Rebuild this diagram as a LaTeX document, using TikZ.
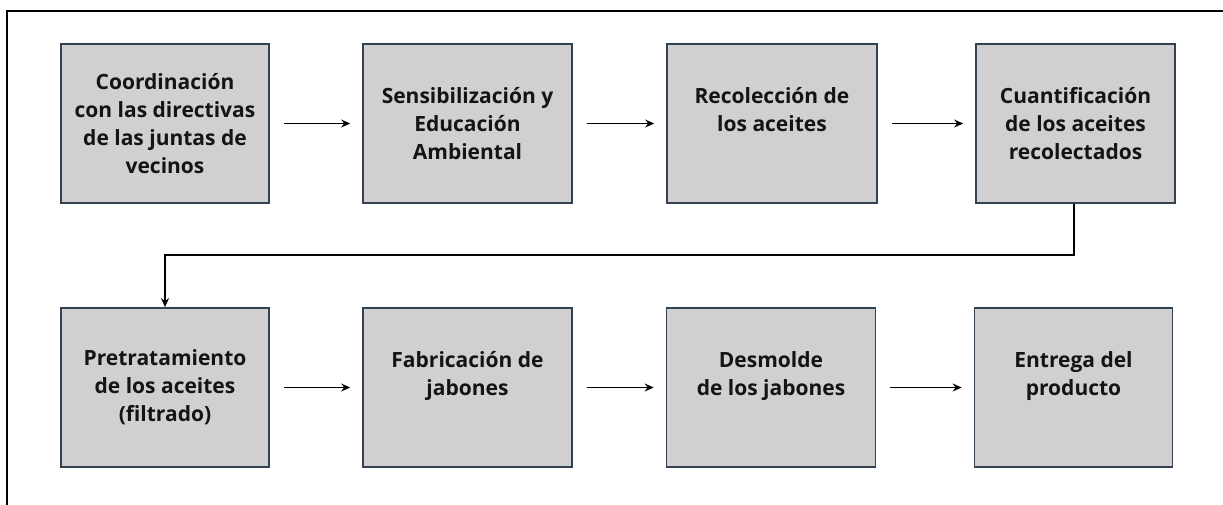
\documentclass[tikz,border=0pt]{standalone}
\usepackage{fontspec}
\setmainfont{Open Sans}
\usetikzlibrary{arrows.meta}
\definecolor{boxfill}{RGB}{208,208,208}
\definecolor{boxline}{RGB}{50,66,80}
\definecolor{txt}{RGB}{20,20,20}
\begin{document}
\begin{tikzpicture}[x=1pt,y=-1pt,
  stepbox/.style={draw=boxline, line width=1.7pt, fill=boxfill, minimum height=159pt,
    inner sep=0pt, align=center, text=txt,
    font=\bfseries\fontsize{21}{28}\selectfont},
  flow/.style={-{Stealth[length=9pt,width=8pt]}, line width=1.9pt, black},
  ]
\clip (0,0) rectangle (1223,504);
\useasboundingbox (0,0) rectangle (1223,504);
\draw[line width=2pt, black] (7,11) rectangle (1260,540);
% row 1
\node[stepbox, minimum width=208pt] (b1) at (165,123.5) {Coordinación\\con las directivas\\de las juntas de\\vecinos};
\node[stepbox, minimum width=209pt] (b2) at (467.5,123.5) {Sensibilización y\\Educación\\Ambiental};
\node[stepbox, minimum width=210pt] (b3) at (772,123.5) {Recolección de\\los aceites\\\mbox{}};
\node[stepbox, minimum width=199pt] (b4) at (1075.5,123.5) {Cuantificación\\de los aceites\\recolectados};
% row 2
\node[stepbox, minimum width=208pt] (b5) at (165,387.5) {Pretratamiento\\de los aceites\\(filtrado)};
\node[stepbox, minimum width=209pt] (b6) at (467.5,387.5) {Fabricación de\\jabones\\\mbox{}};
\node[stepbox, minimum width=209pt] (b7) at (771,387.5) {Desmolde\\de los jabones\\\mbox{}};
\node[stepbox, minimum width=198pt] (b8) at (1073.5,387.5) {Entrega del\\producto\\\mbox{}};
% arrows
\draw[flow] ([xshift=14pt]b1.east) -- ([xshift=-12pt]b2.west);
\draw[flow] ([xshift=14pt]b2.east) -- ([xshift=-12pt]b3.west);
\draw[flow] ([xshift=14pt]b3.east) -- ([xshift=-12pt]b4.west);
\draw[flow] ([xshift=14pt]b5.east) -- ([xshift=-12pt]b6.west);
\draw[flow] ([xshift=14pt]b6.east) -- ([xshift=-12pt]b7.west);
\draw[flow] ([xshift=14pt]b7.east) -- ([xshift=-12pt]b8.west);
\coordinate (m1) at ([xshift=-1.5pt]b4.south |- 0,255);
\coordinate (m2) at (b5.north |- 0,255);
\draw[flow, line width=2pt] ([xshift=-1.5pt]b4.south) -- (m1) -- (m2) -- (b5.north);
\end{tikzpicture}
\end{document}
